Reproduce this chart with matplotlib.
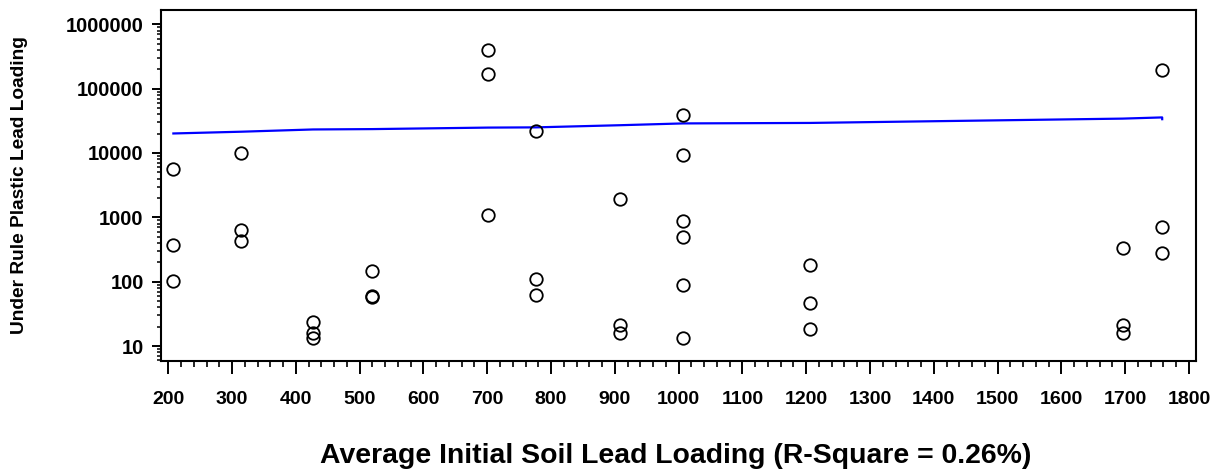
import matplotlib
matplotlib.use("Agg")
import matplotlib.pyplot as plt
from matplotlib.ticker import LogLocator, MultipleLocator, FuncFormatter, NullFormatter

plt.rcParams['font.family'] = ['Liberation Sans', 'DejaVu Sans']
plt.rcParams['font.weight'] = 'bold'

# soil lead loading groups (x) and the plastic lead loadings measured at each
soil_x = [208, 314, 427, 520, 701, 776, 908, 1007, 1206, 1696, 1758]
plastic_y = [
    [5640, 378, 102],
    [10000, 642, 426],
    [23.5, 16, 13.5],
    [149, 60, 58],
    [403000, 166000, 1070],
    [22100, 111, 62],
    [1915, 21, 15.7],
    [38500, 9420, 875, 491, 90, 13.5],
    [183, 46.8, 18.5],
    [330, 21, 16],
    [195000, 697, 282],
]

# fitted curve
fit_x = [208, 314, 427, 520, 701, 776, 908, 1007, 1206, 1696, 1758, 1758]
fit_y = [20100, 21400, 23200, 23500, 24800, 25000, 27000, 28800, 29300, 34200, 35700, 33500]

x_label = "Average Initial Soil Lead Loading (R-Square = 0.26%)"
y_label = "Under Rule Plastic Lead Loading"

fig = plt.figure(figsize=(12.24, 4.72), dpi=100)
ax = fig.add_axes([161 / 1224, 1 - 361 / 472, 1035 / 1224, 351 / 472])

px = []
py = []
for x, ys in zip(soil_x, plastic_y):
    px += [x] * len(ys)
    py += ys

ax.plot(fit_x, fit_y, color="#0000ff", lw=1.6, zorder=2)
ax.plot(px, py, ls="none", marker="o", ms=9, mfc="none", mec="black", mew=1.3, zorder=3)

ax.set_yscale("log")
ax.set_xlim(188.6, 1811)
ax.set_ylim(5.85, 1.667e6)

ax.xaxis.set_major_locator(MultipleLocator(100))
ax.xaxis.set_minor_locator(MultipleLocator(20))
ax.yaxis.set_major_locator(LogLocator(base=10, numticks=10))
ax.yaxis.set_minor_locator(LogLocator(base=10, subs=range(2, 10), numticks=10))
ax.yaxis.set_major_formatter(FuncFormatter(lambda v, p: "%d" % v))
ax.yaxis.set_minor_formatter(NullFormatter())

for s in ax.spines.values():
    s.set_linewidth(1.5)

ax.tick_params(axis="x", which="major", direction="out", length=9.4, width=1.4, pad=12, labelsize=14)
ax.tick_params(axis="x", which="minor", direction="out", length=4.3, width=1.2)
ax.tick_params(axis="y", which="major", direction="out", length=6.5, width=1.4, pad=6, labelsize=14.5)
ax.tick_params(axis="y", which="minor", direction="out", length=3.2, width=1.1)

fig.text(676 / 1224, 1 - 463 / 472, x_label, ha="center", va="baseline",
         fontsize=20.4, fontweight="bold")
fig.text(20 / 1224, 1 - 185.5 / 472, y_label, ha="center", va="center",
         rotation=90, fontsize=13.8, fontweight="bold")

fig.savefig("out.png", dpi=100)
